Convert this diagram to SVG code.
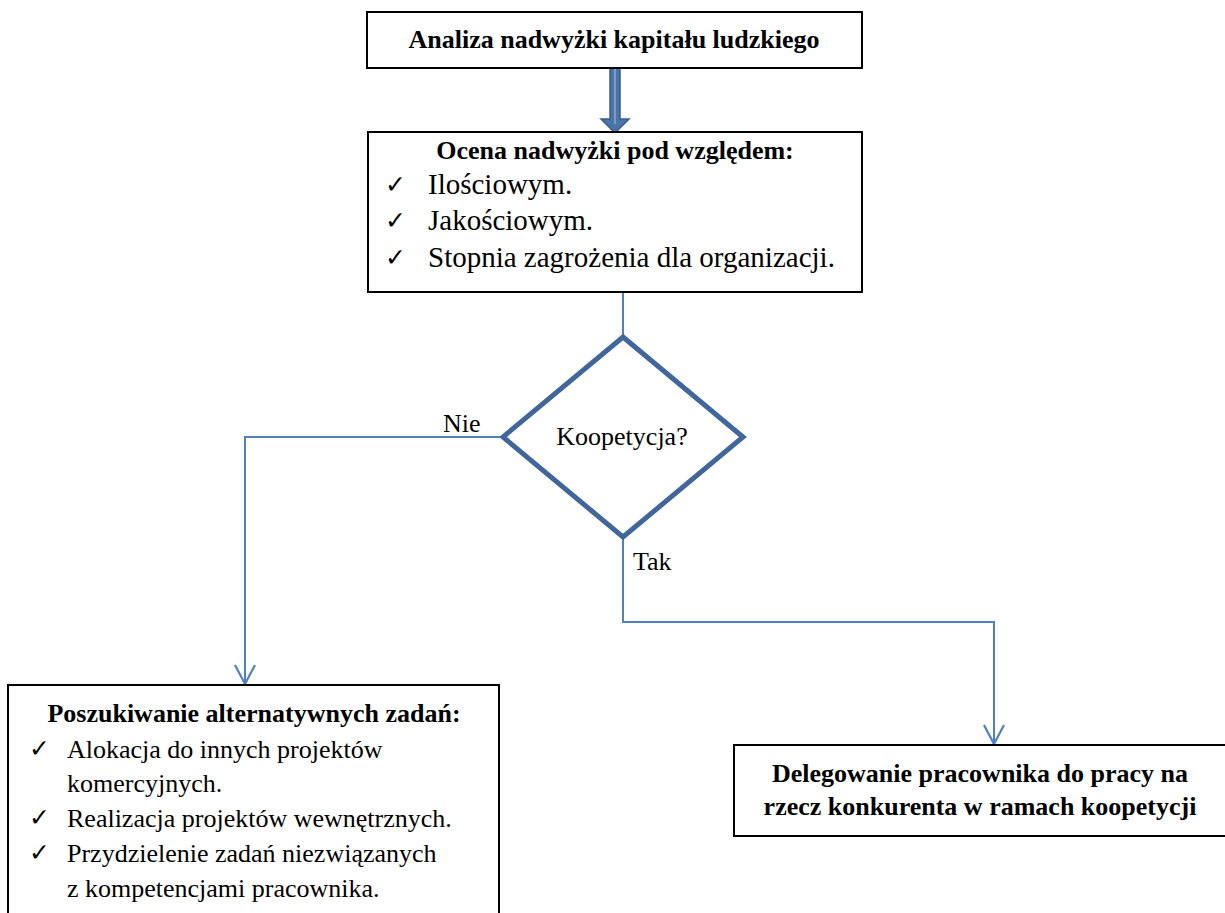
<svg xmlns="http://www.w3.org/2000/svg" width="1225" height="913" viewBox="0 0 1225 913">
  <defs>
    <style>
      .box { fill: #ffffff; stroke: #000000; stroke-width: 2; }
      .t { font-family: "Liberation Serif", "Times New Roman", serif; font-size: 26px; fill: #000000; }
      .big { font-size: 29px; }
      .b { font-weight: bold; }
      .chk { font-family: "DejaVu Sans", sans-serif; font-size: 25px; font-weight: bold; fill: #000000; }
      .conn { fill: none; stroke: #4f81bd; stroke-width: 2; }
      .diamond { fill: #ffffff; stroke: #41679a; stroke-width: 5; stroke-linejoin: miter; }
    </style>
    <!-- open V arrowhead, drawn pointing along +x -->
    <marker id="vhead" viewBox="0 0 22 24" refX="20" refY="12" markerWidth="22" markerHeight="24" markerUnits="userSpaceOnUse" orient="auto">
      <path d="M1 2 L20 12 L1 22" fill="none" stroke="#4f81bd" stroke-width="2.2"/>
    </marker>
  </defs>

  <rect width="1225" height="913" fill="#ffffff"/>

  <!-- connectors -->
  <g id="connectors">
    <line class="conn" x1="623" y1="292" x2="623" y2="337"/>
    <polyline class="conn" points="503,437 245,437 245,684" marker-end="url(#vhead)"/>
    <polyline class="conn" points="623,537 623,622 994,622 994,744" marker-end="url(#vhead)"/>
    <!-- heavy block arrow between the first two steps -->
    <g id="block-arrow">
      <path d="M610 66 L620 66 L620 119 L629 119 L615 133 L601 119 L610 119 Z" fill="#4a74aa" stroke="#385d8a" stroke-width="1.5"/>
      <line x1="615" y1="67" x2="615" y2="124" stroke="#7b9cc9" stroke-width="2"/>
    </g>
    <text class="t" x="443" y="432">Nie</text>
    <text class="t" x="633" y="570">Tak</text>
  </g>

  <g id="node-analiza">
    <rect class="box" x="367" y="12" width="495" height="56"/>
    <text class="t b" x="614" y="48" text-anchor="middle">Analiza nadwyżki kapitału ludzkiego</text>
  </g>

  <g id="node-ocena">
    <rect class="box" x="368" y="132" width="494" height="160"/>
    <text class="t b" x="615" y="159" text-anchor="middle">Ocena nadwyżki pod względem:</text>
    <text class="chk" x="385" y="193">✓</text>
    <text class="t big" x="428" y="194">Ilościowym.</text>
    <text class="chk" x="385" y="229">✓</text>
    <text class="t big" x="428" y="230">Jakościowym.</text>
    <text class="chk" x="385" y="266">✓</text>
    <text class="t big" x="428" y="267">Stopnia zagrożenia dla organizacji.</text>
  </g>

  <g id="node-koopetycja">
    <polygon class="diamond" points="623,337 743,437 623,537 503,437"/>
    <text class="t" x="622" y="445" text-anchor="middle">Koopetycja?</text>
  </g>

  <g id="node-poszukiwanie">
    <rect class="box" x="8" y="685" width="491" height="240"/>
    <text class="t b" x="254" y="722" text-anchor="middle">Poszukiwanie alternatywnych zadań:</text>
    <text class="chk" x="29" y="757">✓</text>
    <text class="t" x="67" y="758">Alokacja do innych projektów</text>
    <text class="t" x="67" y="792">komercyjnych.</text>
    <text class="chk" x="29" y="826">✓</text>
    <text class="t" x="67" y="827">Realizacja projektów wewnętrznych.</text>
    <text class="chk" x="29" y="861">✓</text>
    <text class="t" x="67" y="862">Przydzielenie zadań niezwiązanych</text>
    <text class="t" x="67" y="897">z kompetencjami pracownika.</text>
  </g>

  <g id="node-delegowanie">
    <rect class="box" x="734" y="745" width="500" height="91"/>
    <text class="t b" x="980" y="782" text-anchor="middle">Delegowanie pracownika do pracy na</text>
    <text class="t b" x="980" y="815" text-anchor="middle">rzecz konkurenta w ramach koopetycji</text>
  </g>
</svg>
